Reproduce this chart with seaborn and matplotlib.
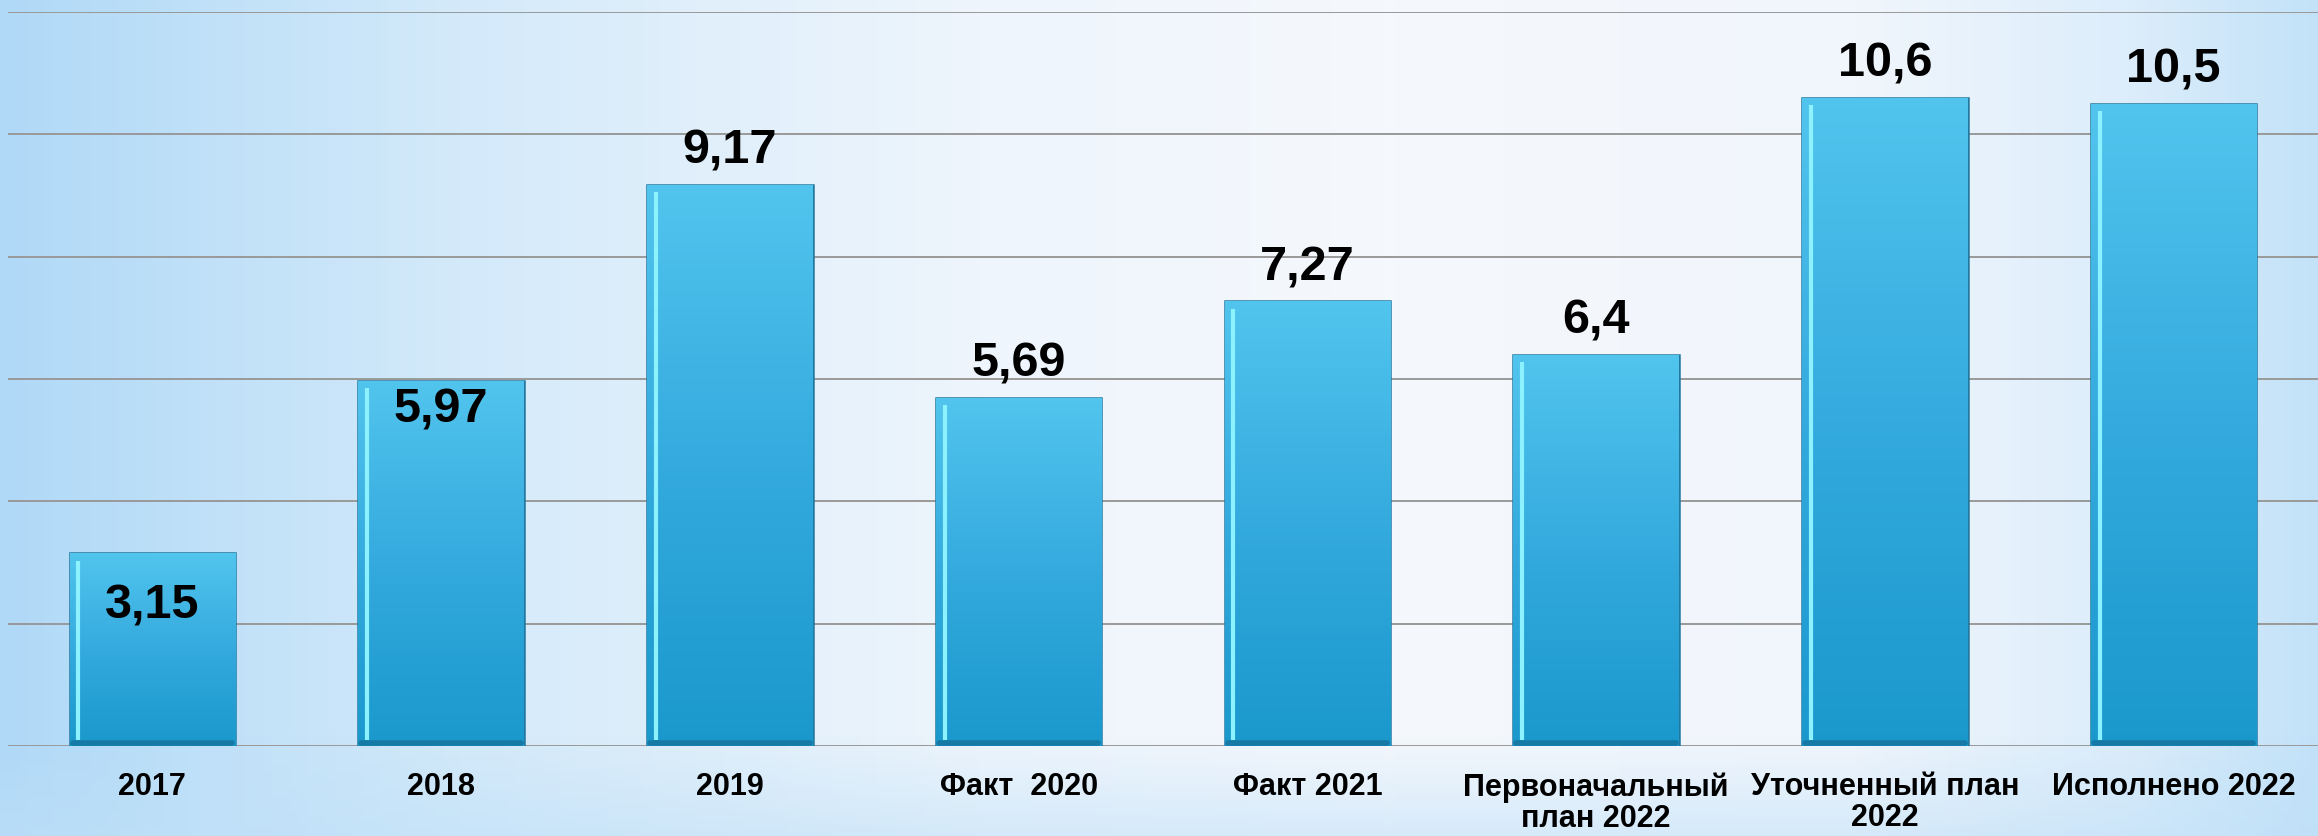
import numpy as np
import pandas as pd
import seaborn as sns
import matplotlib.pyplot as plt
from matplotlib.colors import LinearSegmentedColormap, to_rgb

# data
categories = ['2017', '2018', '2019', 'Факт  2020', 'Факт 2021',
              'Первоначальный\nплан 2022', 'Уточненный план\n2022', 'Исполнено 2022']
values = [3.15, 5.97, 9.17, 5.69, 7.27, 6.4, 10.6, 10.5]
value_labels = ['3,15', '5,97', '9,17', '5,69', '7,27', '6,4', '10,6', '10,5']

# label offsets (points) from bar top - first two sit inside the bar
label_offsets = [-37, -20, 25, 25, 25, 25, 25, 25]

df = pd.DataFrame({'cat': categories, 'val': values})

sns.set_style('white')
plt.rcParams['font.family'] = ['Liberation Sans', 'DejaVu Sans']

fig = plt.figure(figsize=(23.18, 8.37), dpi=100)

# background gradient
bg = fig.add_axes([0, 0, 1, 1], zorder=0)
stops = [(0.0, '#b0d9f7'), (0.2, '#d4eafa'), (0.42, '#eef5fc'), (0.6, '#f5f8fc'),
         (0.8, '#f1f6fc'), (0.92, '#dcedfb'), (1.0, '#c3e2f8')]
bg_cmap = LinearSegmentedColormap.from_list('bg', stops)
grad = np.tile(np.linspace(0, 1, 512), (64, 1))
bg.imshow(grad, cmap=bg_cmap, aspect='auto', extent=[0, 1, 0, 1])
# faint blue band near the bottom
vshade = np.linspace(0, 1, 256)[:, None] * np.ones((1, 8))
band = np.zeros((256, 8, 4))
band[..., :3] = to_rgb('#bfe0f8')
band[..., 3] = np.clip(1 - vshade / 0.12, 0, 1) * 0.55
bg.imshow(band, aspect='auto', extent=[0, 1, 0, 1], origin='lower')
bg.set_xlim(0, 1)
bg.set_ylim(0, 1)
bg.axis('off')

ax = fig.add_axes([8 / 2318, 0.1075, 1 - 8 / 2318, 0.877], zorder=1)
ax.patch.set_alpha(0)

sns.barplot(data=df, x='cat', y='val', color='#3ab3e2', width=0.573,
            edgecolor='#23789f', linewidth=1.8, ax=ax, zorder=2)

bar_cmap = LinearSegmentedColormap.from_list('bar', ['#1a98cc', '#34aade', '#52c5ee'])
vgrad = np.linspace(0, 1, 256)[:, None]
for patch in ax.patches:
    x0 = patch.get_x()
    w = patch.get_width()
    h = patch.get_height()
    img = ax.imshow(vgrad, cmap=bar_cmap, aspect='auto', origin='lower',
                    extent=[x0, x0 + w, 0, h], zorder=2.5)
    img.set_clip_path(patch)
    # bevel highlight on the left side, darker rim at the bottom
    ax.plot([x0 + 0.03, x0 + 0.03], [0.1, h - 0.12], color='#8cf2ff', lw=3,
            solid_capstyle='butt', zorder=3)
    ax.plot([x0 + 0.01, x0 + w - 0.01], [0.05, 0.05], color='#1679a6', lw=4, zorder=3)

for i, patch in enumerate(ax.patches):
    ax.annotate(value_labels[i], (patch.get_x() + patch.get_width() / 2, patch.get_height()),
                xytext=(0, label_offsets[i]), textcoords='offset points',
                ha='center', va='center', fontsize=35, fontweight='bold', color='black',
                zorder=5)

ax.set_xlim(-0.5, len(categories) - 0.5)
ax.set_ylim(0, 12)
ax.set_yticks(np.arange(0, 13, 2))
ax.yaxis.grid(True, color='#999999', lw=1.4)
ax.set_axisbelow(True)
ax.tick_params(axis='y', left=False, labelleft=False)
ax.tick_params(axis='x', length=0, pad=18)
for lbl in ax.get_xticklabels():
    lbl.set_fontfamily(['Liberation Sans Narrow', 'Liberation Sans', 'DejaVu Sans'])
    lbl.set_fontweight('bold')
    lbl.set_fontsize(22)
    lbl.set_color('black')
    lbl.set_linespacing(1.05)
    lbl.set_va('top')
ax.set_xlabel('')
ax.set_ylabel('')
sns.despine(ax=ax, left=True, bottom=True)

fig.savefig('out.png', dpi=100)
